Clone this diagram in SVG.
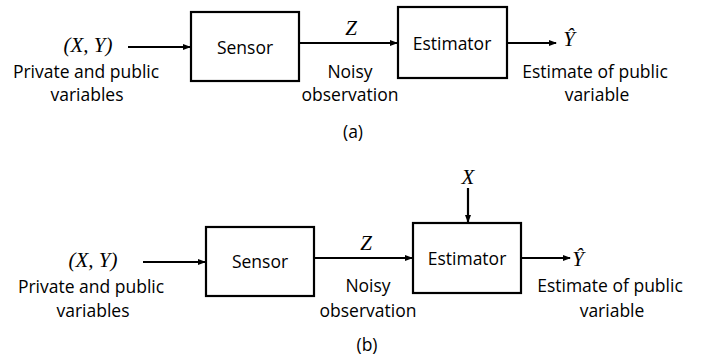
<svg xmlns="http://www.w3.org/2000/svg" width="701" height="363" viewBox="0 0 701 363">
<defs>
<marker id="ah" markerWidth="8" markerHeight="8" refX="7" refY="4" orient="auto" markerUnits="userSpaceOnUse">
<path d="M0,1 L8,4 L0,7 Z" fill="#000"/>
</marker>
<style>
.box{fill:#fff;stroke:#000;stroke-width:2.2}
.t{font-family:"Open Sans","Liberation Sans",Arial,sans-serif;font-size:17.5px;fill:#000;text-anchor:middle}
.m{font-family:"Liberation Serif","Times New Roman",serif;font-style:italic;font-size:21px;fill:#000;text-anchor:middle}
.c{stroke:#000;stroke-width:2.2;fill:none;marker-end:url(#ah)}
</style>
</defs>
<rect width="701" height="363" fill="#fff"/>

<!-- (a) -->
<g id="a-sensor"><rect class="box" x="191" y="12" width="108" height="69"/><text class="t" x="245" y="54">Sensor</text></g>
<g id="a-estimator"><rect class="box" x="398" y="7" width="109" height="71"/><text class="t" x="452" y="50">Estimator</text></g>
<g id="a-input"><text class="m" x="88" y="52">(X, Y)</text><text class="t" x="86" y="78">Private and public</text><text class="t" x="87" y="101">variables</text></g>
<g id="a-z"><text class="m" x="351" y="35">Z</text><text class="t" x="350" y="78">Noisy</text><text class="t" x="350" y="101">observation</text></g>
<g id="a-out"><text class="m" x="569" y="46">Ŷ</text><text class="t" x="595" y="78">Estimate of public</text><text class="t" x="597" y="101">variable</text></g>
<text class="t" x="353" y="138">(a)</text>

<!-- (b) -->
<g id="b-sensor"><rect class="box" x="206" y="227" width="108" height="69"/><text class="t" x="260" y="268">Sensor</text></g>
<g id="b-estimator"><rect class="box" x="413" y="223" width="108" height="70"/><text class="t" x="467" y="265">Estimator</text></g>
<g id="b-input"><text class="m" x="93" y="267">(X, Y)</text><text class="t" x="91" y="293">Private and public</text><text class="t" x="93" y="317">variables</text></g>
<g id="b-z"><text class="m" x="366" y="250">Z</text><text class="t" x="368" y="292">Noisy</text><text class="t" x="368" y="317">observation</text></g>
<g id="b-x"><text class="m" x="468" y="184">X</text></g>
<g id="b-out"><text class="m" x="578" y="266">Ŷ</text><text class="t" x="610" y="292">Estimate of public</text><text class="t" x="612" y="317">variable</text></g>
<text class="t" x="367" y="351">(b)</text>

<g id="connectors">
<line class="c" x1="128" y1="47" x2="190" y2="47"/>
<line class="c" x1="299" y1="43" x2="397" y2="43"/>
<line class="c" x1="507" y1="43" x2="556" y2="43"/>
<line class="c" x1="143" y1="262" x2="205" y2="262"/>
<line class="c" x1="314" y1="258" x2="412" y2="258"/>
<line class="c" x1="468" y1="188" x2="468" y2="222"/>
<line class="c" x1="521" y1="258" x2="570" y2="258"/>
</g>
</svg>
